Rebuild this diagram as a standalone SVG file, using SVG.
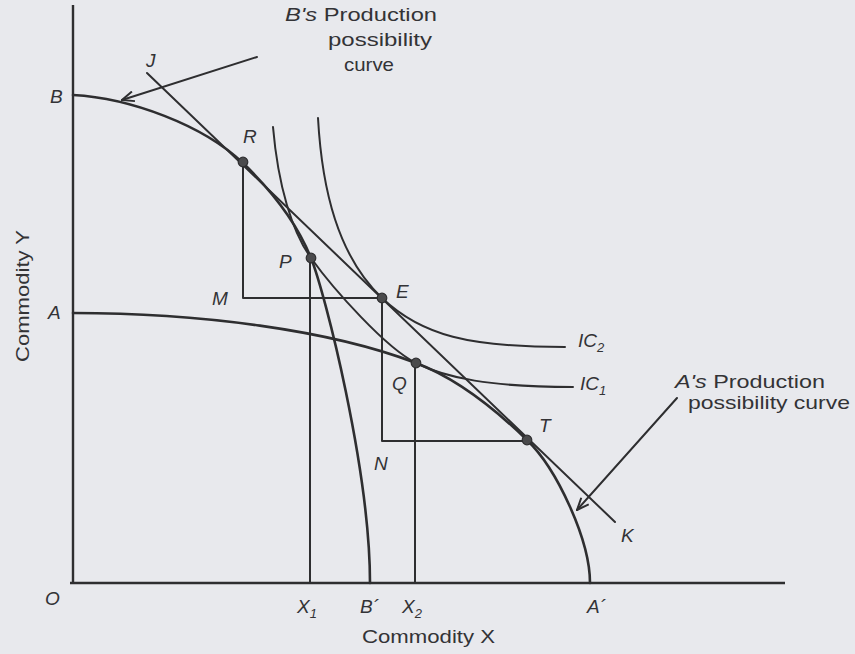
<svg xmlns="http://www.w3.org/2000/svg" width="855" height="654" viewBox="0 0 855 654">
<style>
.ln{fill:none;stroke:#2e2e30;stroke-width:2;stroke-linecap:round;stroke-linejoin:round}
.thk{stroke-width:2.6}
.ax{fill:none;stroke:#2e2e30;stroke-width:2.4}
.dot{fill:#4a4a4c;stroke:#2e2e30;stroke-width:1.2}
.lb{font-family:"Liberation Sans",Arial,sans-serif;font-style:italic;font-size:19px;fill:#333336}
.tx{font-family:"Liberation Sans",Arial,sans-serif;font-size:19px;fill:#333336}
.sub{font-size:13px}
</style>
<defs>
<marker id="open" viewBox="0 0 14 12" refX="13" refY="6" markerWidth="14" markerHeight="12" markerUnits="userSpaceOnUse" orient="auto">
<path d="M1,1 L13,6 L1,11" fill="none" stroke="#2e2e30" stroke-width="2"/>
</marker>
</defs>
<rect x="0" y="0" width="855" height="654" fill="#e8e9ed"/>

<g id="axes">
<line class="ax" x1="73" y1="5" x2="73" y2="583"/>
<line class="ax" x1="70" y1="583" x2="785" y2="583"/>
<text class="lb" x="45" y="605">O</text>
<text class="tx" x="362" y="643" font-size="20" textLength="133" lengthAdjust="spacingAndGlyphs">Commodity X</text>
<text class="tx" font-size="20" transform="translate(29,362) rotate(-90)" textLength="132" lengthAdjust="spacingAndGlyphs">Commodity Y</text>
</g>

<g id="ppc-B">
<path class="ln thk" d="M73,95 C130,98 203,125 243,163 C273,192 297,223 311,258 C325,293 370,470 370,583"/>
<text class="lb" x="50" y="103">B</text>
<text class="lb" x="360" y="613">B´</text>
</g>

<g id="ppc-A">
<path class="ln thk" d="M73,313 C200,313 330,330 416,363 C456,378 492,406 527,440 C557,469 590,540 590,583"/>
<text class="lb" x="48" y="319">A</text>
<text class="lb" x="587" y="613">A´</text>
</g>

<g id="line-JK">
<line class="ln" x1="147" y1="73" x2="615" y2="522"/>
<text class="lb" x="146" y="67">J</text>
<text class="lb" x="621" y="542">K</text>
</g>

<g id="ic-2">
<path class="ln" d="M318,118 C322,190 338,256 382,298 C422,336 470,347 565,347"/>
<text class="lb" x="578" y="347">IC<tspan class="sub" dy="5">2</tspan></text>
</g>

<g id="ic-1">
<path class="ln" d="M273,127 C278,185 292,232 311,258 C334,290 386,348 416,363 C446,378 490,387 573,387"/>
<text class="lb" x="580" y="390">IC<tspan class="sub" dy="5">1</tspan></text>
</g>

<g id="guides">
<polyline class="ln" points="243,163 243,298 382,298"/>
<line class="ln" x1="310" y1="258" x2="310" y2="583"/>
<polyline class="ln" points="382,298 382,441 527,441"/>
<line class="ln" x1="415" y1="363" x2="415" y2="583"/>
<text class="lb" x="297" y="613">X<tspan class="sub" dy="5">1</tspan></text>
<text class="lb" x="402" y="613">X<tspan class="sub" dy="5">2</tspan></text>
</g>

<g id="point-R"><circle class="dot" cx="243" cy="162" r="4.8"/><text class="lb" x="243" y="143">R</text></g>
<g id="point-P"><circle class="dot" cx="311" cy="258" r="4.8"/><text class="lb" x="279" y="268">P</text></g>
<g id="point-M"><text class="lb" x="212" y="305">M</text></g>
<g id="point-E"><circle class="dot" cx="382" cy="298" r="4.8"/><text class="lb" x="396" y="298">E</text></g>
<g id="point-Q"><circle class="dot" cx="416" cy="363" r="4.8"/><text class="lb" x="392" y="390">Q</text></g>
<g id="point-N"><text class="lb" x="374" y="470">N</text></g>
<g id="point-T"><circle class="dot" cx="527" cy="440" r="4.8"/><text class="lb" x="539" y="432">T</text></g>

<g id="label-B-ppc">
<text class="tx" x="285" y="21" textLength="152" lengthAdjust="spacingAndGlyphs"><tspan font-style="italic">B's</tspan> Production</text>
<text class="tx" x="328" y="46" textLength="104" lengthAdjust="spacingAndGlyphs">possibility</text>
<text class="tx" x="344" y="71" textLength="50" lengthAdjust="spacingAndGlyphs">curve</text>
</g>

<g id="label-A-ppc">
<text class="tx" x="675" y="388" textLength="150" lengthAdjust="spacingAndGlyphs"><tspan font-style="italic">A's</tspan> Production</text>
<text class="tx" x="688" y="409" textLength="162" lengthAdjust="spacingAndGlyphs">possibility curve</text>
</g>

<g id="connectors">
<line class="ln" x1="257" y1="57" x2="122" y2="100" marker-end="url(#open)"/>
<line class="ln" x1="677" y1="398" x2="577" y2="510" marker-end="url(#open)"/>
</g>
</svg>
